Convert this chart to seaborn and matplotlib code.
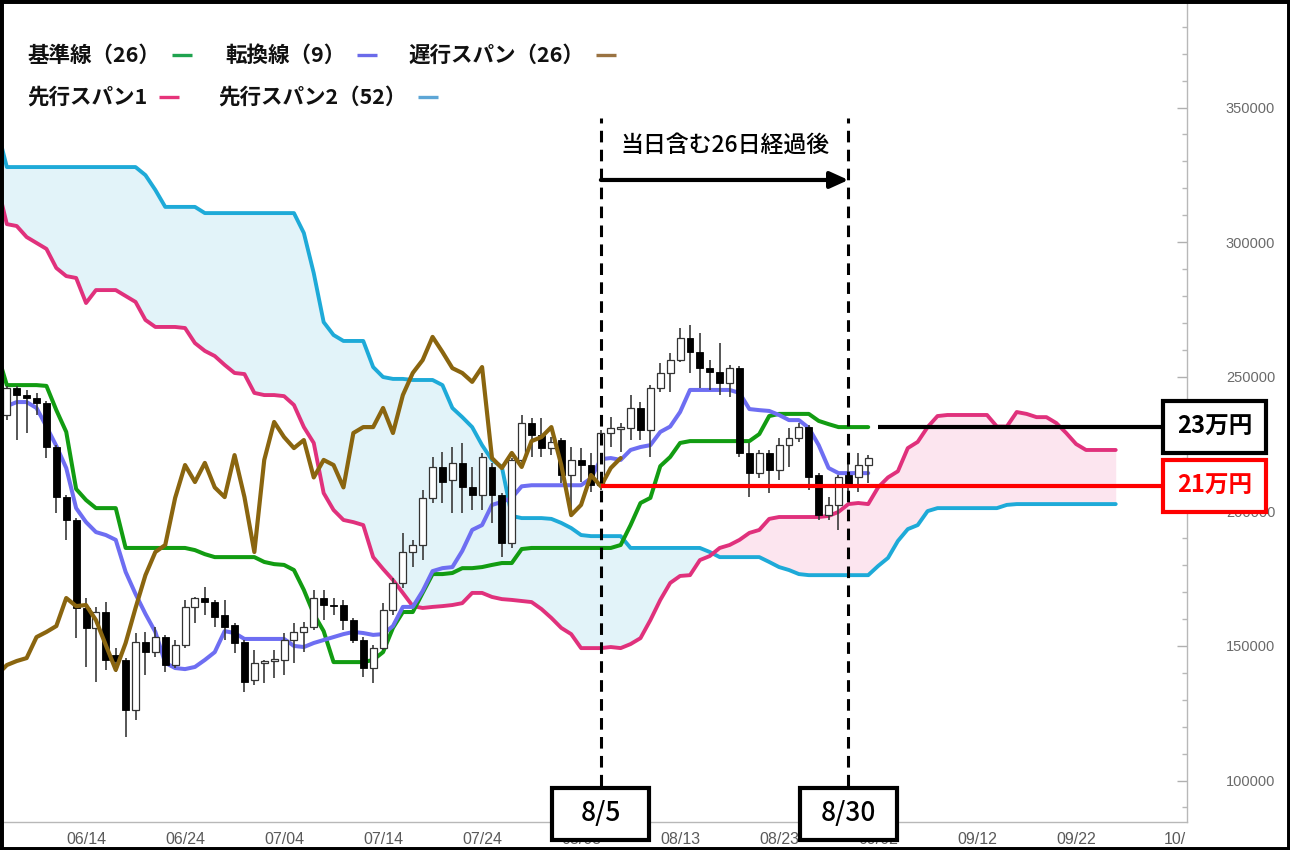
import matplotlib
matplotlib.use("Agg")
import numpy as np
import pandas as pd
import matplotlib.pyplot as plt
import matplotlib.dates as mdates
from matplotlib.patches import Rectangle
from matplotlib.lines import Line2D
from matplotlib import font_manager as fm
import seaborn as sns

# ---------------- data ----------------
CANDLE_START = "2024-06-06"
OPEN = [235800, 245800, 243200, 242100, 240200, 223900, 205300, 196800, 164100, 156700,
        162600, 146600, 144800, 126200, 151500, 147700, 153300, 142900, 150300, 164500,
        167800, 166300, 161500, 157800, 151500, 137300, 143700, 144400, 144800, 152200,
        155200, 157000, 167800, 165200, 165200, 159600, 152200, 141800, 149200, 163300,
        173400, 184900, 187500, 205000, 216500, 211600, 218000, 209000, 206100, 216500,
        206100, 188200, 219100, 232800, 228400, 223500, 226500, 213500, 219100, 217200,
        209800, 229100, 230600, 231000, 238400, 230200, 245800, 251400, 256200, 264400,
        259200, 253200, 251800, 247700, 253200, 221700, 214200, 221700, 215300, 224600,
        227200, 231300, 213500, 198600, 202400, 213500, 212800, 217200]
HIGH = [246600, 246600, 245100, 244000, 241000, 224600, 206100, 197500, 167800, 164500,
        166300, 149200, 145500, 154800, 155200, 157000, 154100, 152200, 167100, 168200,
        171900, 167100, 167100, 158500, 152200, 148500, 144800, 148500, 154800, 158500,
        158900, 170800, 170800, 167800, 167100, 160400, 153300, 150300, 165900, 175200,
        192000, 189400, 207900, 220200, 222000, 223900, 225400, 216500, 221700, 218000,
        206800, 219800, 235800, 234700, 234700, 227600, 227200, 223900, 223500, 221700,
        230200, 235000, 232800, 243200, 240600, 246900, 255100, 258800, 268100, 269200,
        266200, 256200, 262500, 254400, 254000, 225400, 222800, 222800, 227200, 231000,
        232800, 232100, 214200, 205300, 213500, 218000, 221700, 220900]
LOW = [233900, 226500, 229100, 235800, 219800, 199400, 189400, 152900, 142200, 136600,
       141100, 140300, 116200, 122500, 139200, 145900, 140300, 141800, 149200, 158500,
       161500, 157000, 152200, 147400, 132900, 135500, 136200, 138100, 139200, 143700,
       147700, 155900, 159600, 161500, 155900, 151100, 138500, 136200, 148500, 161500,
       171500, 179300, 181900, 203100, 203100, 199400, 199400, 200500, 200500, 195700,
       183000, 186400, 218300, 220200, 220200, 220900, 210500, 197900, 210900, 207200,
       207900, 223900, 222000, 226500, 226500, 220200, 244300, 244300, 255500, 251400,
       245800, 245100, 243200, 242500, 220200, 205300, 212400, 206800, 211600, 216500,
       225800, 207900, 196800, 196800, 193100, 204200, 207200, 210500]
CLOSE = [245800, 243200, 242100, 240200, 223900, 205300, 196800, 164100, 156700, 162600,
         144800, 144400, 126200, 151500, 147700, 153300, 142900, 150300, 164500, 167800,
         166300, 160700, 157000, 151100, 136600, 143700, 144400, 145100, 152200, 155200,
         157000, 167800, 165200, 164800, 159600, 152200, 141800, 149200, 163300, 173400,
         184900, 187500, 205000, 216500, 210900, 218000, 209000, 206100, 220200, 206100,
         188200, 219100, 232800, 228400, 223500, 225800, 213500, 219100, 217200, 209800,
         229100, 231000, 231300, 238400, 230200, 245800, 251400, 256200, 264400, 259200,
         253200, 251800, 247700, 253200, 221700, 214200, 221700, 215300, 224600, 227200,
         231300, 212800, 198600, 202400, 212800, 209000, 217200, 219800]

LINE_START = "2024-06-05"
KIJUN = [259200, 246900, 246900, 246900, 246900, 246600, 237600, 229500, 208300, 204200,
         201200, 201200, 201200, 186400, 186400, 186400, 186400, 186400, 186400, 186400,
         185600, 184100, 183000, 183000, 183000, 183000, 183000, 181200, 180400, 180100,
         178200, 170800, 161900, 155500, 144000, 144000, 144000, 144000, 144800, 147700,
         156700, 162600, 162600, 169700, 176700, 176700, 177100, 178900, 178900, 179300,
         180100, 180800, 180800, 186000, 186400, 186400, 186400, 186400, 186400, 186400,
         186400, 186400, 186400, 187500, 194900, 203100, 205000, 216800, 220200, 225400,
         226100, 226100, 226100, 226100, 226100, 226100, 226100, 228700, 235400, 236200,
         236200, 236200, 236200, 233600, 232400, 231300, 231300, 231300, 231300]
TENKAN = [235800, 239100, 240600, 240600, 238400, 231500, 224300, 216100, 201200, 196000,
          192300, 191200, 189400, 177500, 169300, 161900, 155200, 143700, 141800, 141400,
          142200, 144800, 147700, 155500, 154800, 152600, 152600, 152600, 152600, 152600,
          150000, 149600, 151100, 152200, 153300, 154400, 155200, 154800, 154100, 154400,
          157400, 164500, 164500, 170400, 177800, 178900, 179300, 185300, 193100, 194900,
          202400, 203500, 205000, 209300, 209700, 209700, 209700, 209700, 209700, 209700,
          212300, 219400, 219800, 219100, 222800, 223900, 224600, 229500, 231500, 236900,
          245100, 245100, 245100, 245100, 245100, 244000, 238000, 237600, 237300, 235800,
          233900, 233900, 231000, 224600, 216100, 214200, 214200, 214200, 214200]
CHIKOU = [139200, 142900, 144400, 145500, 153300, 155200, 157400, 167800, 164800, 165200,
          159600, 150300, 141100, 151100, 164100, 176300, 184900, 187500, 205000, 217200,
          210900, 218000, 208900, 205300, 220900, 205300, 184900, 219100, 233200, 227600,
          223500, 226500, 212600, 219100, 217200, 208900, 229100, 231300, 231300, 238400,
          229100, 243200, 251400, 256200, 264800, 259200, 253200, 251400, 248100, 253600,
          219800, 216100, 221700, 216500, 226100, 227600, 231300, 217200, 198600, 202400,
          213500, 209300, 216100, 219800]
SENKOU_A = [322000, 306700, 306000, 301900, 299700, 297500, 290400, 287400, 286700, 277400,
            282200, 282200, 282200, 280000, 277800, 271100, 268500, 268500, 268500, 268100,
            262500, 259600, 257700, 254400, 251400, 251000, 244000, 243200, 243200, 242800,
            239500, 231300, 225400, 206800, 200500, 196800, 196000, 194900, 183000, 178600,
            174500, 169700, 164800, 164100, 164500, 164800, 165200, 165900, 169700, 169700,
            168200, 167400, 167100, 166700, 166300, 163700, 160400, 156700, 154400, 149200,
            149200, 149200, 149600, 149200, 150700, 152900, 159600, 167100, 173400, 176000,
            176300, 181900, 183400, 186400, 187500, 189400, 192000, 193100, 197200, 197900,
            197900, 197900, 197900, 197900, 198300, 199800, 202700, 203100, 202700, 208900,
            212600, 214900, 223500, 225800, 231300, 235400, 235800, 235800, 235800, 235800,
            235800, 231500, 231500, 236900, 236200, 235000, 235000, 232800, 229100, 225000,
            222800, 222800, 222800, 222800]
SENKOU_B = [342400, 327900, 327900, 327900, 327900, 327900, 327900, 327900, 327900, 327900,
            327900, 327900, 327900, 327900, 327900, 324900, 319400, 313100, 313100, 313100,
            313100, 310800, 310800, 310800, 310800, 310800, 310800, 310800, 310800, 310800,
            310800, 303400, 288500, 270300, 265500, 263300, 263300, 263300, 253600, 249900,
            249200, 249200, 248800, 248800, 248800, 246900, 238400, 235000, 231300, 224600,
            219100, 216500, 198300, 197500, 197500, 197500, 197200, 195700, 193800, 191200,
            190800, 190800, 190800, 190800, 186400, 186400, 186400, 186400, 186400, 186400,
            186400, 186400, 184900, 183000, 183000, 183000, 183000, 183000, 181200, 179300,
            178200, 176700, 176300, 176300, 176300, 176300, 176300, 176300, 176300, 179700,
            182700, 189000, 193400, 194900, 200100, 201200, 201200, 201200, 201200, 201200,
            201200, 201200, 202400, 202700, 202700, 202700, 202700, 202700, 202700, 202700,
            202700, 202700, 202700, 202700]

X_TICK_DATES = ["2024-06-14", "2024-06-24", "2024-07-04", "2024-07-14", "2024-07-24",
                "2024-08-03", "2024-08-13", "2024-08-23", "2024-09-02", "2024-09-12",
                "2024-09-22", "2024-10-02"]
X_TICK_LABELS = ["06/14", "06/24", "07/04", "07/14", "07/24", "08/03", "08/13",
                 "08/23", "09/02", "09/12", "09/22", "10/"]
Y_TICKS = [100000, 150000, 200000, 250000, 300000, 350000]

LEGEND_ROW1 = ["基準線（26）", "転換線（9）", "遅行スパン（26）"]
LEGEND_ROW2 = ["先行スパン1", "先行スパン2（52）"]

MARK_DATES = ["2024-08-05", "2024-08-30"]
MARK_LABELS = ["8/5", "8/30"]
SPAN_TEXT = "当日含む26日経過後"
LEVELS = [231300, 209300]
LEVEL_LABELS = ["23万円", "21万円"]

# ---------------- style ----------------
sns.set_theme(style="white")
plt.rcParams["font.family"] = ["Noto Sans CJK JP", "DejaVu Sans"]
names = {f.name for f in fm.fontManager.ttflist}
TICK_FONT = "Liberation Sans" if "Liberation Sans" in names else "DejaVu Sans"
XTICK_FONT = "Liberation Sans Narrow" if "Liberation Sans Narrow" in names else TICK_FONT

C_KIJUN = "#129c12"
C_TENKAN = "#6e6ef2"
C_CHIKOU = "#8a650f"
C_SPAN_A = "#e0317c"
C_SPAN_B = "#1eaad8"
LEG_COLORS = [["#1fa34f", "#6b6bea", "#9a7342"], ["#e6337a", "#5da6d6"]]

W, H = 1290, 850
fig = plt.figure(figsize=(W / 100, H / 100), dpi=100)
fig.patch.set_facecolor("white")
ax = fig.add_axes([0, 28 / H, 1187 / W, 822 / H])
ax.set_facecolor("white")

base = mdates.date2num(pd.Timestamp("2024-06-04"))
ax.set_xlim(base + 1.31, base + 121.2)
ax.set_ylim(84600, 389960)

# ---------------- cloud + lines ----------------
ldates = pd.date_range(LINE_START, periods=len(SENKOU_A), freq="D")
A = np.array(SENKOU_A, dtype=float)
B = np.array(SENKOU_B, dtype=float)
ax.fill_between(ldates, A, B, where=B >= A, interpolate=True, color="#e2f3f9", lw=0, zorder=1)
ax.fill_between(ldates, A, B, where=A >= B, interpolate=True, color="#fce5ef", lw=0, zorder=1)

sns.lineplot(x=ldates, y=SENKOU_B, ax=ax, color=C_SPAN_B, lw=2.8, estimator=None, zorder=2)
sns.lineplot(x=ldates, y=SENKOU_A, ax=ax, color=C_SPAN_A, lw=2.8, estimator=None, zorder=2)
sns.lineplot(x=ldates[:len(KIJUN)], y=KIJUN, ax=ax, color=C_KIJUN, lw=2.9, estimator=None, zorder=3)
sns.lineplot(x=ldates[:len(TENKAN)], y=TENKAN, ax=ax, color=C_TENKAN, lw=2.9, estimator=None, zorder=3)

# ---------------- candles ----------------
cdates = pd.date_range(CANDLE_START, periods=len(OPEN), freq="D")
o = np.array(OPEN, float); h = np.array(HIGH, float)
l = np.array(LOW, float); c = np.array(CLOSE, float)
up = c >= o
ax.vlines(cdates, l, h, color="#3a3a3a", lw=1.2, zorder=4)
ax.bar(cdates[up], (c - o)[up], bottom=o[up], width=0.7, color="white",
       edgecolor="#333333", linewidth=0.9, zorder=5)
ax.bar(cdates[~up], (o - c)[~up], bottom=c[~up], width=0.7, color="black",
       edgecolor="black", linewidth=0.6, zorder=5)

sns.lineplot(x=ldates[:len(CHIKOU)], y=CHIKOU, ax=ax, color=C_CHIKOU, lw=3.0, estimator=None, zorder=6)

# ---------------- axes styling ----------------
ax.set_xlabel(""); ax.set_ylabel("")
for s in ["left", "top"]:
    ax.spines[s].set_visible(False)
for s in ["right", "bottom"]:
    ax.spines[s].set_color("#b8b8b8")
    ax.spines[s].set_linewidth(1.0)
ax.yaxis.tick_right()
ax.set_yticks(Y_TICKS)
ax.set_yticklabels([str(v) for v in Y_TICKS])
ax.set_yticks(np.arange(90000, 390000, 10000), minor=True)
ax.tick_params(axis="y", which="major", direction="in", length=7, width=1, color="#b0b0b0",
               pad=28, labelsize=10.5, labelcolor="#6a6a6a", left=False, right=True)
ax.tick_params(axis="y", which="minor", direction="in", length=3.5, width=1, color="#b8b8b8",
               left=False, right=True)
tick_nums = mdates.date2num(pd.to_datetime(X_TICK_DATES))
ax.set_xticks(tick_nums)
ax.set_xticklabels(X_TICK_LABELS)
ax.set_xticks(base + np.arange(2, 122, 2), minor=True)
ax.tick_params(axis="x", which="major", direction="in", length=9, width=1, color="#b0b0b0",
               pad=7, labelsize=11.5, labelcolor="#5a5a5a", top=False)
ax.tick_params(axis="x", which="minor", direction="in", length=4.5, width=1, color="#b8b8b8", top=False)
for t in ax.get_yticklabels():
    t.set_fontfamily(TICK_FONT)
for t in ax.get_xticklabels():
    t.set_fontfamily(XTICK_FONT)
ax.grid(False)

# ---------------- annotations ----------------
m0, m1 = [mdates.date2num(pd.Timestamp(d)) for d in MARK_DATES]
ax.vlines([m0, m1], 98000, 346100, colors="black", lw=2.2, linestyles=(0, (3.8, 2.4)), zorder=7)
ax.annotate("", xy=(m1, 323100), xytext=(m0, 323100),
            arrowprops=dict(arrowstyle="-|>,head_length=1.1,head_width=0.5", lw=3, color="black",
                            shrinkA=0, shrinkB=0, mutation_scale=10), zorder=7)
ax.text((m0 + m1) / 2, 336100, SPAN_TEXT, ha="center", va="center", fontsize=16.5,
        fontweight="medium", color="black", zorder=7)

fig.canvas.draw()
inv = ax.transData.inverted()
box_left = inv.transform((1162, 0))[0]
kijun_end = mdates.date2num(ldates[len(KIJUN)])
ax.hlines(LEVELS[1], m0, box_left + 0.5, color="#ff0000", lw=3, zorder=8)
ax.hlines(LEVELS[0], kijun_end, box_left + 0.5, color="black", lw=3, zorder=8)


def fig_box(cx, cy, w, hh, ec, lw=3):
    r = Rectangle(((cx - w / 2) / W, (cy - hh / 2) / H), w / W, hh / H, transform=fig.transFigure,
                  facecolor="white", edgecolor=ec, linewidth=lw, zorder=20)
    fig.add_artist(r)


for level, label, col in zip(LEVELS, LEVEL_LABELS, ["black", "#ff0000"]):
    cy = ax.transData.transform((m0, level))[1]
    fig_box(1214.5, cy, 103, 52, col)
    fig.text(1214.5 / W, cy / H, label, ha="center", va="center", fontsize=17, color=col,
             fontweight="bold", zorder=21)

for md, label in zip([m0, m1], MARK_LABELS):
    cx = ax.transData.transform((md, 0))[0]
    fig_box(cx, 36, 97, 52, "black")
    fig.text(cx / W, 36 / H, label, ha="center", va="center", fontsize=19, color="black",
             fontweight="medium", zorder=21)

# ---------------- legend (text followed by a short coloured dash) ----------------
rows = [(LEGEND_ROW1, [27, 225, 408], 795), (LEGEND_ROW2, [27, 218], 753)]
texts = []
for (labels, xs, yy), cols in zip(rows, LEG_COLORS):
    for lab, xx, col in zip(labels, xs, cols):
        t = fig.text(xx / W, yy / H, lab, ha="left", va="center", fontsize=15.5,
                     fontweight="bold", color="#111111", zorder=21)
        texts.append((t, col))
fig.canvas.draw()
renderer = fig.canvas.get_renderer()
for t, col in texts:
    bb = t.get_window_extent(renderer)
    x0 = bb.x1 + 12
    yc = (bb.y0 + bb.y1) / 2
    fig.add_artist(Line2D([x0 / W, (x0 + 20) / W], [yc / H, yc / H], transform=fig.transFigure,
                          color=col, lw=2.4, solid_capstyle="butt", zorder=21))

# outer black frame
fig.add_artist(Rectangle((0, 0), 1, 1, transform=fig.transFigure, fill=False,
                         edgecolor="black", linewidth=5, zorder=30))

fig.savefig("out.png", dpi=100, facecolor="white")
